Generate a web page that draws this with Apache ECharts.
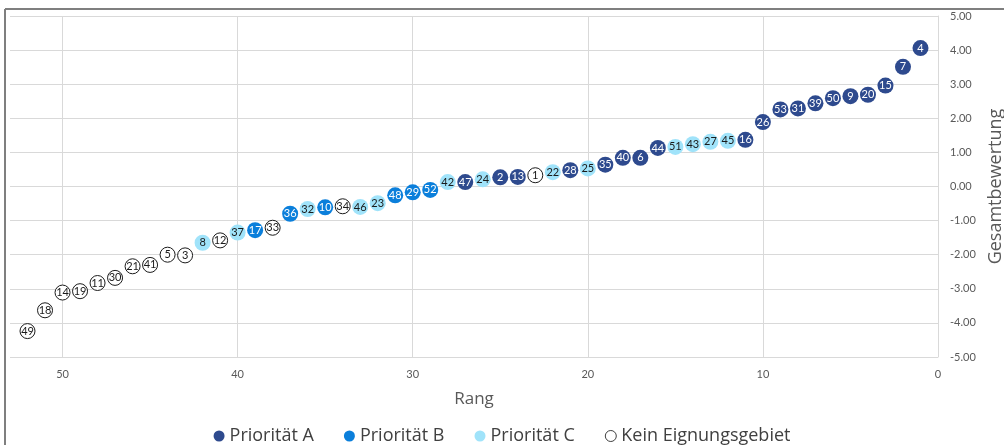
<!DOCTYPE html>
<html>
<head>
<meta charset="utf-8">
<script src="https://cdn.jsdelivr.net/npm/echarts@6/dist/echarts.min.js"></script>
<style>
html,body{margin:0;padding:0;background:#fff;}
#chart{width:1004px;height:445px;}
</style>
</head>
<body>
<div id="chart"></div>
<script>
// Rang (1 = best) for each point
const ranks = [1,2,3,4,5,6,7,8,9,10,11,12,13,14,15,16,17,18,19,20,21,22,23,24,25,26,27,28,29,30,31,32,33,34,35,36,37,38,39,40,41,42,43,44,45,46,47,48,49,50,51,52];
// Area IDs shown in the markers
const ids = [4,7,15,20,9,50,39,31,53,26,16,45,27,43,51,44,6,40,35,25,28,22,1,13,2,24,47,42,52,29,48,23,46,34,10,32,36,33,17,37,12,8,3,5,41,21,30,11,19,14,18,49];
// Gesamtbewertung
const scores = [4.06,3.51,2.96,2.69,2.65,2.59,2.44,2.29,2.26,1.89,1.37,1.34,1.31,1.24,1.16,1.13,0.84,0.84,0.64,0.53,0.48,0.42,0.33,0.28,0.27,0.21,0.13,0.13,-0.10,-0.17,-0.26,-0.49,-0.60,-0.58,-0.61,-0.66,-0.80,-1.21,-1.28,-1.35,-1.58,-1.65,-2.02,-2.00,-2.30,-2.34,-2.68,-2.83,-3.07,-3.11,-3.63,-4.24];
// Category: A, B, C, N (kein Eignungsgebiet)
const groups = ['A','A','A','A','A','A','A','A','A','A','A','C','C','C','C','A','A','A','A','C','A','C','N','A','A','C','A','C','B','B','B','C','C','N','B','C','B','N','B','C','N','C','N','N','N','N','N','N','N','N','N','N'];
const groupNames = {A:'Priorität A', B:'Priorität B', C:'Priorität C', N:'Kein Eignungsgebiet'};
const xTicks = [0,10,20,30,40,50];

const styles = {
  A:{fill:'#2E4A8E', border:'#2E4A8E', text:'#ffffff', bw:0},
  B:{fill:'#0B7FDB', border:'#0B7FDB', text:'#ffffff', bw:0},
  C:{fill:'#A0E3FA', border:'#A0E3FA', text:'#1a1a1a', bw:0},
  N:{fill:'#ffffff', border:'#1a1a1a', text:'#1a1a1a', bw:1}
};

const font = 'Lato, "Open Sans", sans-serif';
const font2 = '"Open Sans", sans-serif';

const series = ['A','B','C','N'].map(g => {
  const data = [];
  for (let i = 0; i < ranks.length; i++) {
    if (groups[i] === g) data.push([ranks[i], scores[i], ids[i]]);
  }
  const s = styles[g];
  return {
    name: groupNames[g],
    type: 'scatter',
    symbol: 'circle',
    symbolSize: g === 'N' ? 15 : 16,
    data: data,
    itemStyle: {color: s.fill, borderColor: s.border, borderWidth: s.bw, opacity: 1},
    label: {
      show: true, position: 'inside',
      formatter: p => String(p.data[2]),
      color: s.text, fontSize: 11, fontFamily: font
    },
    emphasis: {disabled: true}
  };
});

const chart = echarts.init(document.getElementById('chart'), null, {renderer: 'canvas'});
chart.setOption({
  animation: false,
  backgroundColor: '#ffffff',
  grid: {left: 10, right: 66, top: 16, bottom: 88, containLabel: false, outerBoundsMode: 'none'},
  xAxis: {
    type: 'value', min: 0, max: 53, interval: 10, inverse: true,
    name: 'Rang', nameLocation: 'middle', nameGap: 34,
    nameTextStyle: {fontSize: 17, color: '#595959', fontFamily: font2},
    axisLine: {show: false}, axisTick: {show: false},
    axisLabel: {
      color: '#595959', fontSize: 11, margin: 12, fontFamily: font,
      formatter: v => xTicks.indexOf(v) >= 0 ? String(v) : ''
    },
    splitLine: {show: true, lineStyle: {color: ['#d9d9d9','#d9d9d9','#d9d9d9','#d9d9d9','#d9d9d9','#d9d9d9','rgba(0,0,0,0)'], width: 1}}
  },
  yAxis: {
    type: 'value', position: 'right', min: -5, max: 5, interval: 1,
    name: 'Gesamtbewertung', nameLocation: 'middle', nameGap: 44, nameRotate: 90,
    nameTextStyle: {fontSize: 18, color: '#595959', fontFamily: font2},
    axisLine: {show: true, lineStyle: {color: '#d9d9d9'}}, axisTick: {show: false},
    axisLabel: {color: '#595959', fontSize: 11, margin: 12, fontFamily: font, formatter: v => v.toFixed(2)},
    splitLine: {show: true, lineStyle: {color: '#d9d9d9', width: 1}}
  },
  legend: {
    bottom: 0, left: 'center', padding: [0, 5, 0, 5],
    itemWidth: 11, itemHeight: 11, itemGap: 30,
    icon: 'circle',
    textStyle: {fontSize: 18, color: '#404040', fontFamily: font2},
    data: series.map(s => s.name === groupNames.N
      ? {name: s.name, itemStyle: {color: '#ffffff', borderColor: '#404040', borderWidth: 1}}
      : {name: s.name})
  },
  graphic: [
    {type: 'line', shape: {x1: 5, y1: 9, x2: 1004, y2: 9}, style: {stroke: '#7f7f7f', lineWidth: 2}, silent: true},
    {type: 'line', shape: {x1: 5, y1: 9, x2: 5, y2: 445}, style: {stroke: '#7f7f7f', lineWidth: 2}, silent: true}
  ],
  series: series
});
</script>
</body>
</html>
